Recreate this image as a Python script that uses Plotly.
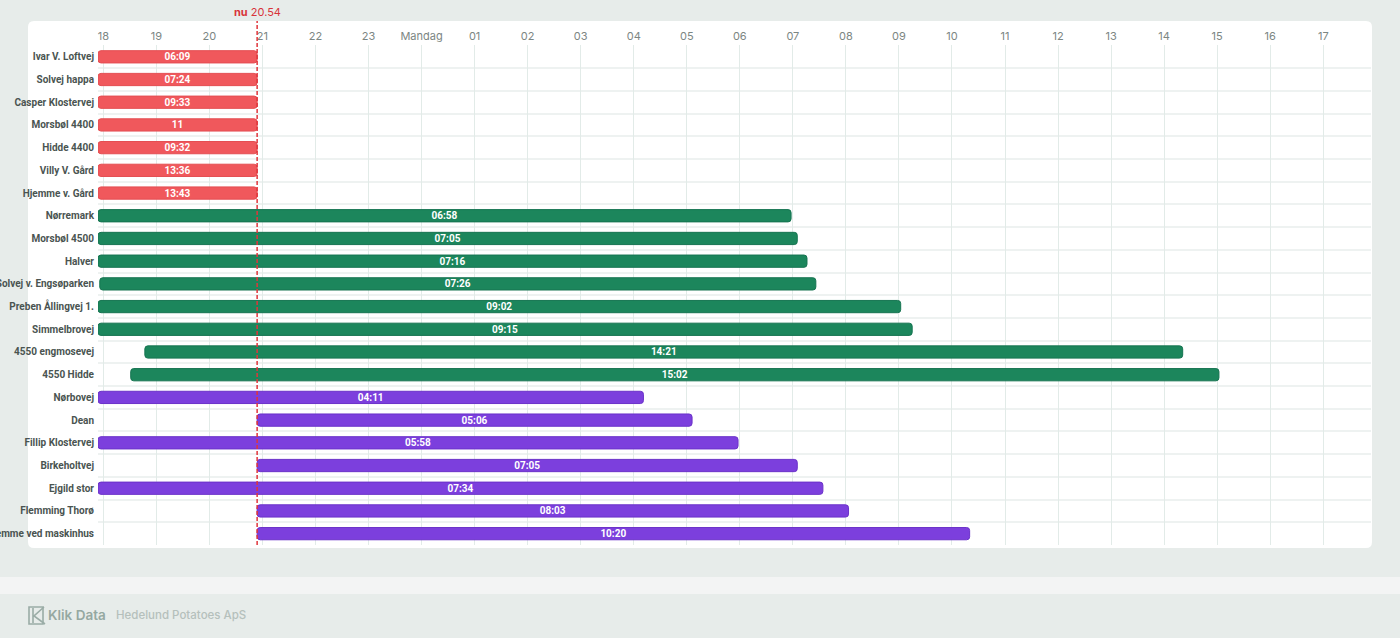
import plotly.graph_objects as go
import pandas as pd

# ---------------- data ----------------
now = "2023-10-15 20:54"
range_start = "2023-10-15 17:54"
range_end = "2023-10-16 17:54"

names = [
    "Ivar V. Loftvej", "Solvej happa", "Casper Klostervej", "Morsbøl 4400",
    "Hidde 4400", "Villy V. Gård", "Hjemme v. Gård",
    "Nørremark", "Morsbøl 4500", "Halver", "Solvej v. Engsøparken",
    "Preben Ållingvej 1.", "Simmelbrovej", "4550 engmosevej", "4550 Hidde",
    "Nørbovej", "Dean", "Fillip Klostervej", "Birkeholtvej", "Ejgild stor",
    "Flemming Thorø", "Hjemme ved maskinhus",
]
groups = ["overdue"] * 7 + ["running"] * 8 + ["planned"] * 7
starts = [
    "2023-10-15 17:54", "2023-10-15 17:54", "2023-10-15 17:54", "2023-10-15 17:54",
    "2023-10-15 17:54", "2023-10-15 17:54", "2023-10-15 17:54",
    "2023-10-15 17:54", "2023-10-15 17:54", "2023-10-15 17:54", "2023-10-15 17:56",
    "2023-10-15 17:54", "2023-10-15 17:54", "2023-10-15 18:47", "2023-10-15 18:31",
    "2023-10-15 17:54", "2023-10-15 20:54", "2023-10-15 17:54", "2023-10-15 20:54",
    "2023-10-15 17:54", "2023-10-15 20:54", "2023-10-15 20:54",
]
ends = [
    "2023-10-15 20:54", "2023-10-15 20:54", "2023-10-15 20:54", "2023-10-15 20:54",
    "2023-10-15 20:54", "2023-10-15 20:54", "2023-10-15 20:54",
    "2023-10-16 06:58", "2023-10-16 07:05", "2023-10-16 07:16", "2023-10-16 07:26",
    "2023-10-16 09:02", "2023-10-16 09:15", "2023-10-16 14:21", "2023-10-16 15:02",
    "2023-10-16 04:11", "2023-10-16 05:06", "2023-10-16 05:58", "2023-10-16 07:05",
    "2023-10-16 07:34", "2023-10-16 08:03", "2023-10-16 10:20",
]
labels = [
    "06:09", "07:24", "09:33", "11", "09:32", "13:36", "13:43",
    "06:58", "07:05", "07:16", "07:26", "09:02", "09:15", "14:21", "15:02",
    "04:11", "05:06", "05:58", "07:05", "07:34", "08:03", "10:20",
]
tick_text = ["18", "19", "20", "21", "22", "23", "Mandag", "01", "02", "03", "04",
             "05", "06", "07", "08", "09", "10", "11", "12", "13", "14", "15", "16", "17"]
tick_vals = list(pd.date_range("2023-10-15 18:00", periods=len(tick_text), freq="h"))

group_style = {
    "overdue": ("#f0585c", "#e44e52"),
    "running": ("#1c865c", "#167451"),
    "planned": ("#7c3fdd", "#6b32c9"),
}

# ---------------- layout geometry ----------------
W, H = 1400, 638
ML, MR, MT, MB = 98, 29, 45, 93
PW, PH = W - ML - MR, H - MT - MB


def px_x(p):
    return (p - ML) / PW


def px_y(p):
    return (H - MB - p) / PH


fig = go.Figure()

df = pd.DataFrame({"name": names, "group": groups, "start": pd.to_datetime(starts),
                   "end": pd.to_datetime(ends), "label": labels})
df["pos"] = range(len(df))
df["dur"] = (df["end"] - df["start"]).dt.total_seconds() * 1000

for g, (col, edge) in group_style.items():
    d = df[df["group"] == g]
    fig.add_trace(go.Bar(
        orientation="h",
        y=d["pos"],
        x=d["dur"],
        base=d["start"].dt.strftime("%Y-%m-%d %H:%M:%S"),
        text=d["label"],
        textposition="inside",
        insidetextanchor="middle",
        textangle=0,
        constraintext="none",
        textfont=dict(color="white", size=10, family="Roboto", weight=700),
        width=0.54,
        marker=dict(color=col, cornerradius=3, line=dict(color=edge, width=1)),
        showlegend=False,
        hoverinfo="skip",
    ))

shapes = [
    # white card
    dict(type="path", xref="paper", yref="paper", layer="below",
         path=(f"M {px_x(34)} {px_y(21)} L {px_x(1366)} {px_y(21)} "
               f"Q {px_x(1372)} {px_y(21)} {px_x(1372)} {px_y(27)} "
               f"L {px_x(1372)} {px_y(542)} Q {px_x(1372)} {px_y(548)} {px_x(1366)} {px_y(548)} "
               f"L {px_x(34)} {px_y(548)} Q {px_x(28)} {px_y(548)} {px_x(28)} {px_y(542)} "
               f"L {px_x(28)} {px_y(27)} Q {px_x(28)} {px_y(21)} {px_x(34)} {px_y(21)} Z"),
         fillcolor="white", line=dict(width=0)),
    # light band above footer
    dict(type="rect", xref="paper", yref="paper", layer="below",
         x0=px_x(0), x1=px_x(1400), y0=px_y(594), y1=px_y(577),
         fillcolor="#f3f4f4", line=dict(width=0)),
    # now line
    dict(type="line", xref="x", yref="paper", x0=now, x1=now,
         y0=0, y1=px_y(21), line=dict(color="#e0353b", width=1.5, dash="4px,2px")),
    # logo icon
    dict(type="path", xref="paper", yref="paper",
         path=(f"M {px_x(29)} {px_y(607)} L {px_x(43)} {px_y(607)} L {px_x(43)} {px_y(624)} "
               f"L {px_x(29)} {px_y(624)} Z"),
         line=dict(color="#9aaca6", width=1.6)),
    dict(type="path", xref="paper", yref="paper",
         path=(f"M {px_x(33)} {px_y(608)} L {px_x(33)} {px_y(623)} M {px_x(44)} {px_y(607)} "
               f"L {px_x(34)} {px_y(616)} L {px_x(45)} {px_y(624)}"),
         line=dict(color="#9aaca6", width=1.6)),
]

annotations = [
    dict(xref="x", yref="paper", x=now, y=px_y(12), text="<b>nu</b> 20.54",
         showarrow=False, font=dict(color="#d8343a", size=11, family="Inter"),
         xanchor="center", yanchor="middle"),
    dict(xref="paper", yref="paper", x=px_x(46), y=px_y(615), text="Klik Data",
         showarrow=False, font=dict(color="#95a8a1", size=13.5, family="Inter", weight=600),
         xanchor="left", yanchor="middle"),
    dict(xref="paper", yref="paper", x=px_x(114), y=px_y(615), text="Hedelund Potatoes ApS",
         showarrow=False, font=dict(color="#b5c0bc", size=11.5, family="Inter", weight=500),
         xanchor="left", yanchor="middle"),
]

fig.update_layout(
    width=W, height=H,
    margin=dict(l=ML, r=MR, t=MT, b=MB, autoexpand=False),
    paper_bgcolor="#e7ecea",
    plot_bgcolor="rgba(0,0,0,0)",
    barmode="overlay",
    shapes=shapes,
    annotations=annotations,
    font=dict(family="Inter"),
    xaxis=dict(
        type="date", side="top", range=[range_start, range_end],
        tickmode="array", tickvals=tick_vals, ticktext=tick_text,
        showgrid=True, gridcolor="#e2ebe8", gridwidth=1,
        zeroline=False, showline=False, ticks="", automargin=False,
        tickfont=dict(size=11, color="#7c8683", family="Inter"),
        ticklabelstandoff=2,
    ),
    yaxis=dict(
        range=[len(names) - 0.5, -0.52], automargin=False,
        tickmode="array", tickvals=list(range(len(names))), ticktext=names,
        showgrid=False, zeroline=False, showline=False, ticks="",
        tickfont=dict(size=10, color="#4a5451", family="Roboto", weight=700),
        ticklabelstandoff=3,
        minor=dict(tickmode="array", tickvals=[i - 0.5 for i in range(len(names))],
                   showgrid=True, gridcolor="#eef2f1", gridwidth=1.5),
    ),
)

fig.write_html("out.html")
